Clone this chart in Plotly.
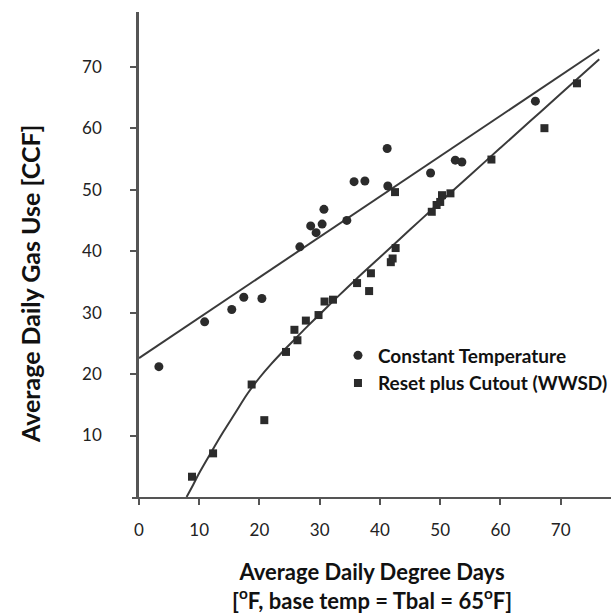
import plotly.graph_objects as go

# Constant Temperature (circles)
ct_x = [3.3, 10.9, 15.4, 17.4, 20.4, 26.7, 28.5, 29.4, 30.4, 30.7, 34.5, 35.7, 37.5, 41.2, 41.3, 48.4, 52.5, 53.6, 65.8]
ct_y = [21.2, 28.5, 30.5, 32.5, 32.3, 40.7, 44.1, 43.0, 44.4, 46.8, 45.0, 51.3, 51.4, 56.7, 50.6, 52.7, 54.8, 54.5, 64.4]

# Reset plus Cutout (WWSD) (squares)
rc_x = [8.8, 12.3, 18.7, 20.8, 24.4, 25.8, 26.3, 27.7, 29.8, 30.8, 32.2, 36.2, 38.2, 38.5, 41.8, 42.1, 42.6,
        42.5, 48.6, 49.4, 50.0, 50.3, 51.7, 58.5, 67.3, 72.7]
rc_y = [3.3, 7.1, 18.3, 12.5, 23.6, 27.2, 25.5, 28.7, 29.6, 31.8, 32.1, 34.8, 33.5, 36.4, 38.2, 38.8, 40.5,
        49.6, 46.4, 47.5, 48.0, 49.1, 49.4, 54.9, 60.0, 67.3]

# Fitted line for constant temperature
ct_fit_x = [0.0, 76.4]
ct_fit_y = [22.6, 72.8]

# Fitted curve for reset plus cutout
rc_fit_x = [7.9, 9.0, 10.0, 12.0, 14.0, 16.0, 18.0, 20.0, 22.0, 24.0, 26.0, 28.0, 30.0, 33.0, 36.0, 40.0,
            45.0, 50.0, 55.0, 60.0, 65.0, 70.0, 76.4]
rc_fit_y = [0.0, 2.0, 3.9, 7.3, 10.6, 13.7, 16.8, 19.4, 21.7, 23.8, 25.8, 27.8, 29.7, 32.6, 35.4, 39.0,
            43.5, 48.0, 52.4, 56.8, 61.2, 65.6, 71.2]

x_ticks = [0, 10, 20, 30, 40, 50, 60, 70]
y_ticks = [10, 20, 30, 40, 50, 60, 70]

FONT = "Lato"
INK = "#2b2b2b"

fig = go.Figure()
fig.add_trace(go.Scatter(x=ct_fit_x, y=ct_fit_y, mode="lines", line=dict(color="#3a3a3a", width=2),
                         showlegend=False, hoverinfo="skip"))
fig.add_trace(go.Scatter(x=rc_fit_x, y=rc_fit_y, mode="lines",
                         line=dict(color="#3a3a3a", width=2, shape="spline", smoothing=1.0),
                         showlegend=False, hoverinfo="skip"))
fig.add_trace(go.Scatter(x=ct_x, y=ct_y, mode="markers", name="Constant Temperature",
                         marker=dict(symbol="circle", size=9, color=INK)))
fig.add_trace(go.Scatter(x=rc_x, y=rc_y, mode="markers", name="Reset plus Cutout (WWSD)",
                         marker=dict(symbol="square", size=8, color=INK)))

fig.update_layout(
    width=613, height=616,
    margin=dict(l=132, r=0, t=12, b=119),
    paper_bgcolor="white", plot_bgcolor="white",
    font=dict(family=FONT, color="#222", size=17),
    xaxis=dict(range=[-1.16, 78.35], tickvals=x_ticks, showgrid=False, zeroline=False,
               showline=True, linecolor="#555", linewidth=2, ticks="outside", ticklen=6, tickwidth=2,
               tickcolor="#555", ticklabelstandoff=11, tickfont=dict(size=17, family=FONT, color="#222")),
    yaxis=dict(range=[0, 78.9], tickvals=y_ticks, showgrid=False, zeroline=False,
               showline=True, linecolor="#555", linewidth=2.5, ticks="outside", ticklen=6, tickwidth=2,
               tickcolor="#555", anchor="free", position=0.0104, ticklabelstandoff=25,
               tickfont=dict(size=17, family=FONT, color="#222")),
    legend=dict(x=0.43, y=0.331, xanchor="left", yanchor="top", bgcolor="rgba(0,0,0,0)",
                font=dict(size=19, family=FONT, color="#111", weight="bold"), tracegroupgap=0),
    showlegend=True,
    annotations=[
        dict(text="<b>Average Daily Degree Days</b><br><b>[<sup>o</sup>F, base temp = Tbal = 65<sup>o</sup>F]</b>",
             xref="paper", yref="paper", x=0.5, y=-0.184, xanchor="center", yanchor="middle",
             showarrow=False, font=dict(size=22, family=FONT, color="#111")),
        dict(text="<b>Average Daily Gas Use [CCF]</b>", textangle=-90,
             xref="paper", yref="paper", x=-0.214, y=0.44, xanchor="center", yanchor="middle",
             showarrow=False, font=dict(size=25, family=FONT, color="#111")),
    ],
)

fig.write_html("out.html", config={"displayModeBar": False},
               post_script="document.body.style.margin='0';document.body.style.overflow='hidden';")
